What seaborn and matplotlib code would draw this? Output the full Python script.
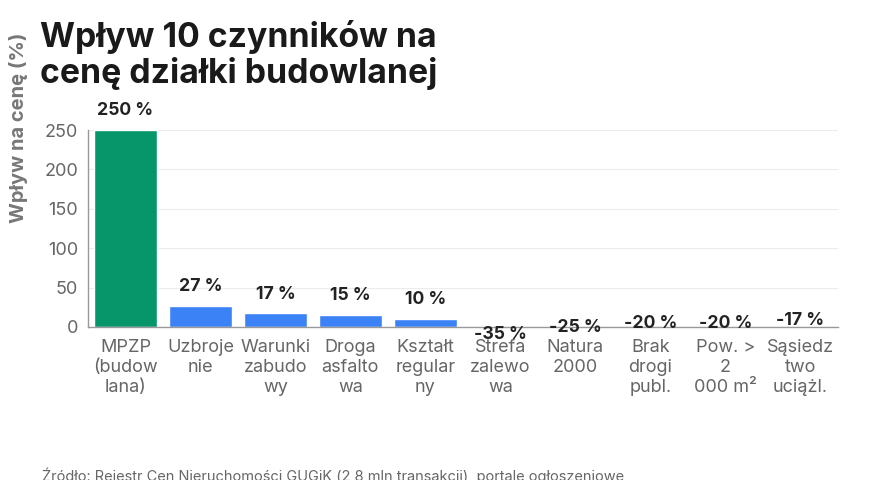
import matplotlib
matplotlib.use("Agg")
import matplotlib.pyplot as plt
import seaborn as sns

# data
labels = ["MPZP\n(budow\nlana)", "Uzbroje\nnie", "Warunki\nzabudo\nwy", "Droga\nasfalto\nwa",
          "Kształt\nregular\nny", "Strefa\nzalewo\nwa", "Natura\n2000", "Brak\ndrogi\npubl.",
          "Pow. >\n2\n000 m²", "Sąsiedz\ntwo\nuciążl."]
values = [250, 27, 17, 15, 10, -35, -25, -20, -20, -17]
bar_colors = ["#07966a", "#3b82f6", "#3b82f6", "#3b82f6", "#3b82f6",
              "#ef4444", "#ef4444", "#ef4444", "#ef4444", "#ef4444"]

sns.set_style("white")
plt.rcParams["font.family"] = ["Inter", "DejaVu Sans"]

fig = plt.figure(figsize=(8.8, 4.8), dpi=100)
ax = fig.add_axes([0.1, 0.319, 0.852, 0.41])

sns.barplot(x=labels, y=values, hue=labels, palette=bar_colors, legend=False,
            width=0.84, saturation=1, ax=ax)

ax.set_ylim(0, 250)
ax.set_xlim(-0.5, len(values) - 0.5)
ax.set_yticks([0, 50, 100, 150, 200, 250])
ax.yaxis.grid(True, color="#ececec", linewidth=0.8)
ax.set_axisbelow(True)
for s in ["top", "right"]:
    ax.spines[s].set_visible(False)
for s in ["left", "bottom"]:
    ax.spines[s].set_color("#999999")
    ax.spines[s].set_linewidth(1.0)
ax.tick_params(axis="both", length=0, labelsize=13, labelcolor="#666666")
ax.tick_params(axis="x", pad=9)
ax.tick_params(axis="y", pad=7)
for t in ax.get_xticklabels():
    t.set_linespacing(1.2)

ax.set_xlabel("")
ax.set_ylabel("")
fig.text(0.021, 1 - 128 / 480, "Wpływ na cenę (%)", rotation=90, fontsize=14.5,
         fontweight="bold", color="#777777", ha="center", va="center")

# value labels (also for bars that fall below the axis)
for i, v in enumerate(values):
    ax.annotate(f"{v} %", xy=(i, v), xytext=(0, 14), textcoords="offset points",
                ha="center", va="center", fontsize=12.7, fontweight="bold",
                color="#222222", annotation_clip=False)

fig.text(0.046, 1 - 55 / 480, "Wpływ 10 czynników na\ncenę działki budowlanej",
         fontsize=24.3, fontweight="bold", color="#1a1a1a", va="center",
         linespacing=1.15)

fig.text(0.048, 1 - 468 / 480,
         "Źródło: Rejestr Cen Nieruchomości GUGiK (2,8 mln transakcji), portale ogłoszeniowe",
         fontsize=10.5, color="#666666", va="top")

plt.savefig("out.png", dpi=100)
